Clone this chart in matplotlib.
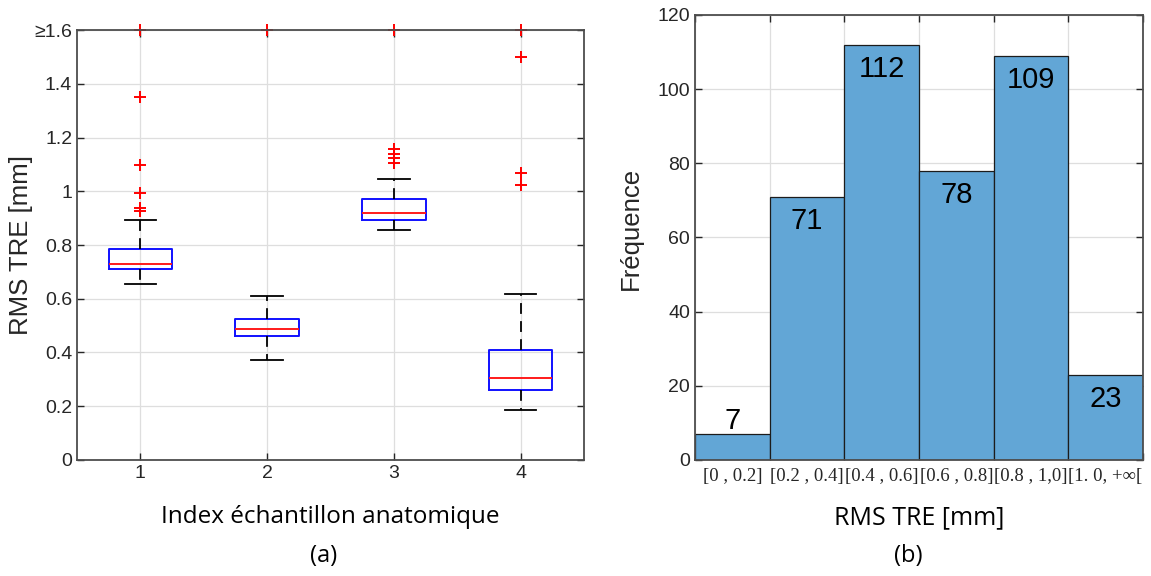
import matplotlib.pyplot as plt
import numpy as np

# --- data ---
# (a) box plots per anatomical sample
samples = [1, 2, 3, 4]
whislo = [0.654, 0.373, 0.855, 0.186]
q1 = [0.712, 0.460, 0.892, 0.260]
med = [0.728, 0.486, 0.918, 0.304]
q3 = [0.786, 0.523, 0.972, 0.408]
whishi = [0.894, 0.611, 1.044, 0.618]
outliers = [
    [0.928, 0.937, 0.992, 1.098, 1.352, 1.6],
    [1.6],
    [1.104, 1.124, 1.14, 1.157, 1.6],
    [1.022, 1.067, 1.50, 1.6],
]
ytick_vals = [0, 0.2, 0.4, 0.6, 0.8, 1.0, 1.2, 1.4, 1.6]
ytick_labels = ['0', '0.2', '0.4', '0.6', '0.8', '1', '1.2', '1.4', '≥1.6']

# (b) histogram of RMS TRE
bin_edges = [0, 0.2, 0.4, 0.6, 0.8, 1.0, 1.2]
counts = [7, 71, 112, 78, 109, 23]
bin_labels = ['[0 , 0.2]', '[0.2 , 0.4]', '[0.4 , 0.6]', '[0.6 , 0.8]',
              '[0.8 , 1,0]', '[1. 0, +∞[']

ink = '#262626'
grid_c = '#dedede'
sans = 'Liberation Sans'
cap_font = 'Open Sans'

plt.rcParams['font.family'] = [sans, 'DejaVu Sans']

fig = plt.figure(figsize=(11.51, 5.76), dpi=100)
ax1 = fig.add_axes([0.0669, 0.2014, 0.4405, 0.7465])
ax2 = fig.add_axes([0.6038, 0.2014, 0.3892, 0.7726])

# ---- (a) ----
stats = []
for i in range(len(samples)):
    stats.append(dict(med=med[i], q1=q1[i], q3=q3[i], whislo=whislo[i],
                      whishi=whishi[i], fliers=outliers[i]))
bp = ax1.bxp(stats, positions=samples, widths=0.5, showfliers=True,
             boxprops=dict(color='#1010ff', linewidth=1.4),
             medianprops=dict(color='#ff1a1a', linewidth=1.4),
             whiskerprops=dict(color='black', linewidth=1.3, linestyle=(0, (6, 4))),
             capprops=dict(color='black', linewidth=1.3),
             capwidths=0.25,
             flierprops=dict(marker='+', markeredgecolor='#ff0000', markersize=8,
                             markeredgewidth=1.4, linestyle='none'))
for f in bp['fliers']:
    f.set_clip_on(False)

ax1.set_xlim(0.5, 4.5)
ax1.set_ylim(0, 1.6)
ax1.set_xticks(samples)
ax1.set_yticks(ytick_vals)
ax1.set_yticklabels(ytick_labels)
ax1.set_ylabel('RMS TRE [mm]', fontsize=18.5, color=ink)
ax1.yaxis.set_label_coords(-0.087, 0.5)
ax1.set_xlabel('Index échantillon anatomique', fontsize=17.5, family=cap_font,
               color='black', labelpad=17)

# ---- (b) ----
widths = np.diff(bin_edges)
ax2.bar(bin_edges[:-1], counts, width=widths, align='edge',
        color='#62a6d6', edgecolor='#1c1c1c', linewidth=0.9, zorder=2)
for x0, w, v in zip(bin_edges[:-1], widths, counts):
    y = v + 3.5 if v < 15 else v - 6.5
    ax2.text(x0 + w / 2, y, str(v), ha='center', va='center', fontsize=21,
             color='black', zorder=3)

ax2.set_xlim(bin_edges[0], bin_edges[-1])
ax2.set_ylim(0, 120)
ax2.set_yticks(range(0, 121, 20))
ax2.set_xticks(bin_edges)
ax2.set_xticklabels([])
centers = [a + w / 2 for a, w in zip(bin_edges[:-1], widths)]
ax2.set_xticks(centers, minor=True)
ax2.set_xticklabels(bin_labels, minor=True, family=['Liberation Serif', 'DejaVu Serif'],
                    fontsize=13.5, color=ink)
ax2.tick_params(axis='x', which='minor', length=0, pad=6)
ax2.set_ylabel('Fréquence', fontsize=18.5, color=ink)
ax2.yaxis.set_label_coords(-0.116, 0.52)
ax2.set_xlabel('RMS TRE [mm]', fontsize=18, family=cap_font, color='black',
               labelpad=14)

for ax in (ax1, ax2):
    ax.grid(True, color=grid_c, linewidth=0.9, zorder=0)
    ax.set_axisbelow(True)
    ax.tick_params(which='major', direction='in', top=True, right=True,
                   labelsize=14, colors=ink, length=5, width=1)
    for s in ax.spines.values():
        s.set_color('#4d4d4d')
        s.set_linewidth(1.3)
ax2.tick_params(axis='x', which='minor', top=False, labelsize=13.5)

fig.text(0.281, 0.035, '(a)', ha='center', va='center', fontsize=17, family=cap_font)
fig.text(0.789, 0.035, '(b)', ha='center', va='center', fontsize=17, family=cap_font)

fig.savefig('out.png', dpi=100)
